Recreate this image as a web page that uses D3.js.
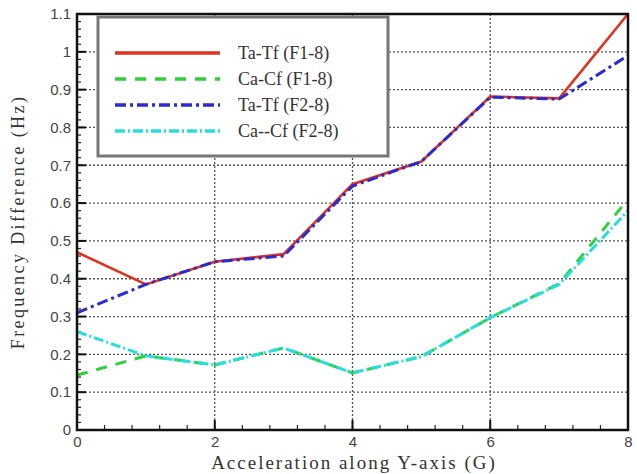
<!DOCTYPE html>
<html>
<head>
<meta charset="utf-8">
<script src="https://cdn.jsdelivr.net/npm/d3@7"></script>
<style>
  body { margin: 0; background: #fff; }
  .serif { font-family: "Liberation Serif", "DejaVu Serif", serif; }
  .sans { font-family: "Liberation Sans", Arial, sans-serif; }
</style>
</head>
<body>
<script>
var accel = [0, 1, 2, 3, 4, 5, 6, 7, 8];
var taTfF1 = [0.47, 0.385, 0.445, 0.465, 0.65, 0.71, 0.882, 0.877, 1.1];
var caCfF1 = [0.145, 0.196, 0.172, 0.217, 0.151, 0.194, 0.297, 0.387, 0.61];
var taTfF2 = [0.31, 0.385, 0.445, 0.46, 0.645, 0.71, 0.88, 0.875, 0.99];
var caCfF2 = [0.26, 0.196, 0.172, 0.217, 0.151, 0.194, 0.297, 0.385, 0.58];
var seriesNames = ["Ta-Tf (F1-8)", "Ca-Cf (F1-8)", "Ta-Tf (F2-8)", "Ca--Cf (F2-8)"];
var xTicks = [0, 2, 4, 6, 8];
var yTicks = [0, 0.1, 0.2, 0.3, 0.4, 0.5, 0.6, 0.7, 0.8, 0.9, 1, 1.1];

var W = 637, H = 474;
var margin = {top: 14, right: 9, bottom: 44, left: 77};
var w = W - margin.left - margin.right;
var h = H - margin.top - margin.bottom;

var svg = d3.select("body").append("svg")
            .attr("width", W)
            .attr("height", H);
var g = svg.append("g").attr("transform", "translate(" + margin.left + "," + margin.top + ")");

var x = d3.scaleLinear().domain([0, 8]).range([0, w]);
var y = d3.scaleLinear().domain([0, 1.1]).range([h, 0]);

// dotted grid
g.append("g").selectAll("line").data(xTicks.slice(1, -1)).enter().append("line")
  .attr("x1", d => x(d)).attr("x2", d => x(d))
  .attr("y1", 0).attr("y2", h)
  .attr("stroke", "#555").attr("stroke-width", 1.3).attr("stroke-dasharray", "2,2");
g.append("g").selectAll("line").data(yTicks.slice(1, -1)).enter().append("line")
  .attr("x1", 0).attr("x2", w)
  .attr("y1", d => y(d)).attr("y2", d => y(d))
  .attr("stroke", "#555").attr("stroke-width", 1.3).attr("stroke-dasharray", "2,2");

// minor ticks
var xMinor = d3.range(0, 8.001, 0.4);
var yMinor = d3.range(0, 1.1001, 0.02);
g.append("g").selectAll("line").data(xMinor).enter().append("line")
  .attr("x1", d => x(d)).attr("x2", d => x(d))
  .attr("y1", h).attr("y2", h - 5)
  .attr("stroke", "#222").attr("stroke-width", 1.2);
g.append("g").selectAll("line").data(yMinor).enter().append("line")
  .attr("x1", 0).attr("x2", 4)
  .attr("y1", d => y(d)).attr("y2", d => y(d))
  .attr("stroke", "#222").attr("stroke-width", 1.2);
// major ticks
g.append("g").selectAll("line").data(xTicks).enter().append("line")
  .attr("x1", d => x(d)).attr("x2", d => x(d))
  .attr("y1", h).attr("y2", h - 10)
  .attr("stroke", "#111").attr("stroke-width", 2);
g.append("g").selectAll("line").data(yTicks).enter().append("line")
  .attr("x1", 0).attr("x2", 9)
  .attr("y1", d => y(d)).attr("y2", d => y(d))
  .attr("stroke", "#111").attr("stroke-width", 2);

// tick labels via axes
var xAxis = g.append("g").attr("transform", "translate(0," + h + ")")
  .call(d3.axisBottom(x).tickValues(xTicks).tickSize(0).tickPadding(6).tickFormat(d3.format("d")));
var yAxis = g.append("g")
  .call(d3.axisLeft(y).tickValues(yTicks).tickSize(0).tickPadding(6).tickFormat(d => String(+d.toFixed(1))));
[xAxis, yAxis].forEach(function(a) {
  a.attr("font-family", null).attr("font-size", null);
  a.select(".domain").remove();
  a.selectAll("text").attr("class", "sans")
    .style("font-size", "15px").attr("fill", "#444");
});

// series
var lineGen = d3.line().x((d, i) => x(accel[i])).y(d => y(d));
var series = [
  {vals: caCfF1, color: "#2ed13a", dash: "11,9", width: 3},
  {vals: caCfF2, color: "#27dede", dash: "10,3,2,3", width: 3},
  {vals: taTfF1, color: "#e0321e", dash: null, width: 2.6},
  {vals: taTfF2, color: "#2b2bd0", dash: "11,4,3,4", width: 3}
];
svg.append("clipPath").attr("id", "clip").append("rect")
  .attr("width", w).attr("height", h + 2).attr("y", -2);
series.forEach(function(s) {
  g.append("path").datum(s.vals)
    .attr("d", lineGen)
    .attr("fill", "none")
    .attr("stroke", s.color)
    .attr("stroke-width", s.width)
    .attr("stroke-dasharray", s.dash)
    .attr("clip-path", "url(#clip)");
});

// frame
g.append("rect").attr("width", w).attr("height", h)
  .attr("fill", "none").attr("stroke", "#111").attr("stroke-width", 2.5);

// legend
var legendItems = [
  {name: seriesNames[0], color: "#e0321e", dash: null},
  {name: seriesNames[1], color: "#2ed13a", dash: "11,9"},
  {name: seriesNames[2], color: "#2b2bd0", dash: "11,4,3,4"},
  {name: seriesNames[3], color: "#27dede", dash: "10,3,2,3"}
];
var lg = svg.append("g").attr("transform", "translate(98,17)");
lg.append("rect").attr("width", 290).attr("height", 139)
  .attr("fill", "#fff").attr("stroke", "#777").attr("stroke-width", 3);
legendItems.forEach(function(it, i) {
  var yy = 36 + i * 26;
  lg.append("line").attr("x1", 17).attr("x2", 122).attr("y1", yy).attr("y2", yy)
    .attr("stroke", it.color).attr("stroke-width", 3.5).attr("stroke-dasharray", it.dash);
  lg.append("text").attr("class", "serif").attr("x", 140).attr("y", yy + 6).text(it.name)
    .style("font-size", "18px").attr("fill", "#333");
});

// axis titles
svg.append("text").attr("class", "serif").attr("x", 354).attr("y", 469)
  .attr("text-anchor", "middle").text("Acceleration along Y-axis (G)")
  .style("font-size", "19px").style("letter-spacing", "2px").attr("fill", "#333");
svg.append("text").attr("class", "serif").attr("transform", "translate(24,222) rotate(-90)")
  .attr("text-anchor", "middle").text("Frequency Difference (Hz)")
  .style("font-size", "18px").style("letter-spacing", "2.4px").attr("fill", "#333");
</script>
</body>
</html>
